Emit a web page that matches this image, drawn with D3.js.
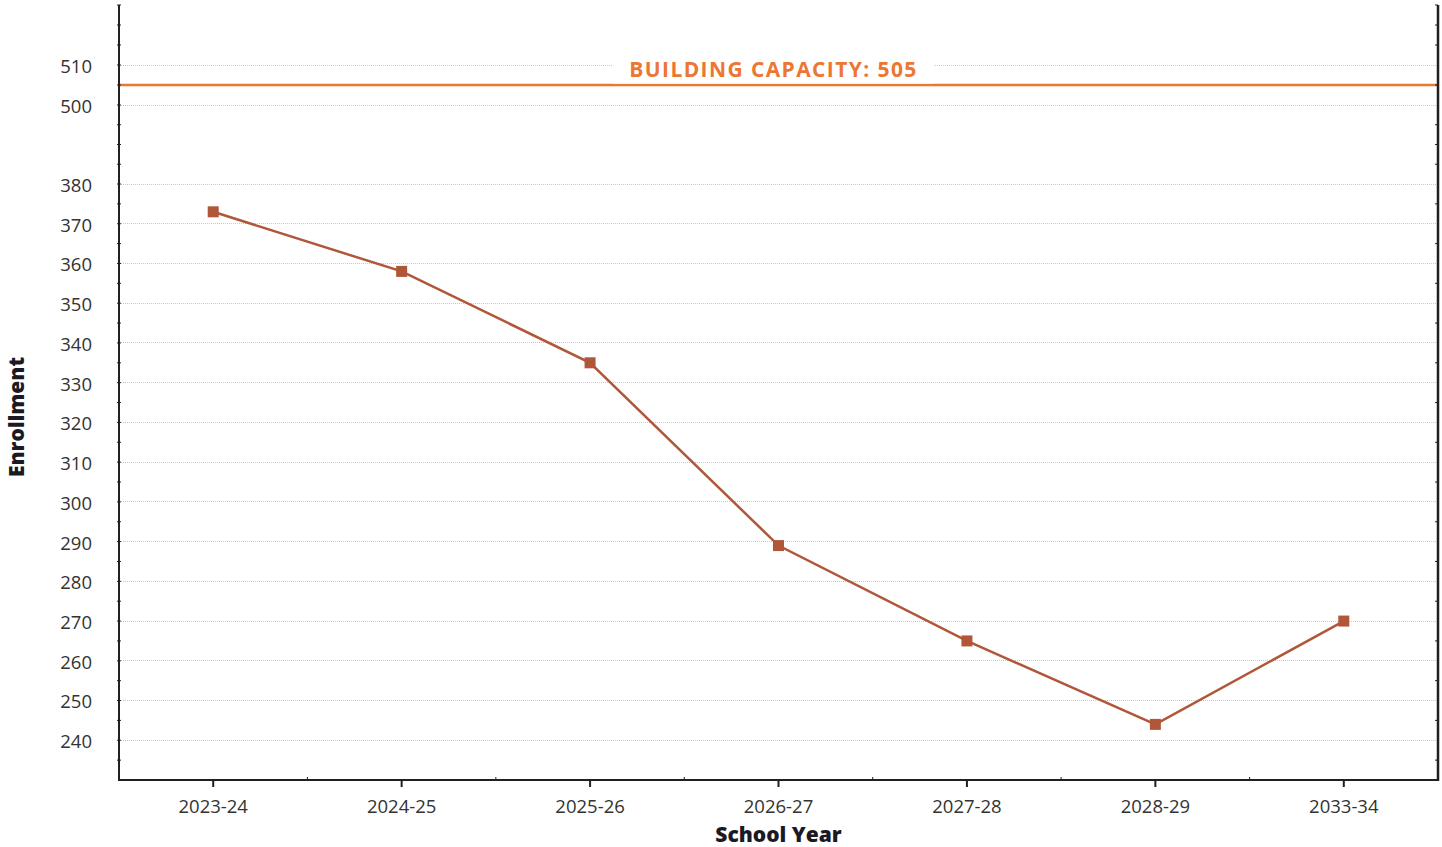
<!DOCTYPE html>
<html>
<head>
<meta charset="utf-8">
<script src="https://cdn.jsdelivr.net/npm/d3@7"></script>
<style>
  html, body { margin: 0; padding: 0; background: #fff; }
  svg { display: block; }
  text { font-family: "Open Sans", "Noto Sans", sans-serif; }
</style>
</head>
<body>
<svg id="chart" width="1442" height="847"></svg>
<script>
// ---- data ----
const schoolYears = ["2023-24", "2024-25", "2025-26", "2026-27", "2027-28", "2028-29", "2033-34"];
const enrollment = [373, 358, 335, 289, 265, 244, 270];
const buildingCapacity = 505;
const capacityLabel = "BUILDING CAPACITY: 505";
const yGridValues = [240, 250, 260, 270, 280, 290, 300, 310, 320, 330, 340, 350, 360, 370, 380, 500, 510];
const yMinorTicks = [235, 245, 255, 265, 275, 285, 295, 305, 315, 325, 335, 345, 355, 365, 375, 410, 440, 470, 505, 515, 520, 525];
const xTitle = "School Year";
const yTitle = "Enrollment";

// ---- layout ----
const plotLeft = 119, plotRight = 1438, plotTop = 5, plotBottom = 780;
const svg = d3.select("#chart");
const axisColor = "#231f20";
const lineColor = "#B0573A";
const capColor = "#EC7632";

const x = d3.scaleBand().domain(schoolYears).range([plotLeft, plotRight]).padding(0);
const xc = d => x(d) + x.bandwidth() / 2;
// broken axis: 380 -> 500 compressed
const y = d3.scaleLinear().domain([230, 380, 500, 525]).range([plotBottom, 184, 105, plotTop]);

// gridlines
svg.append("g").selectAll("line").data(yGridValues).join("line")
  .attr("x1", plotLeft).attr("x2", plotRight)
  .attr("y1", d => y(d)).attr("y2", d => y(d))
  .attr("stroke", "#c8c8c8").attr("stroke-width", 1)
  .attr("stroke-dasharray", "1,1")
  .attr("shape-rendering", "crispEdges");

// capacity line
svg.append("line")
  .attr("x1", plotLeft).attr("x2", plotRight)
  .attr("y1", y(buildingCapacity)).attr("y2", y(buildingCapacity))
  .attr("stroke", capColor).attr("stroke-width", 2.5);

// capacity label with white box
const labelX = (plotLeft + plotRight) / 2 - 5;
const capG = svg.append("g");
const capText = capG.append("text")
  .attr("x", labelX).attr("y", y(buildingCapacity) - 8)
  .attr("text-anchor", "middle")
  .attr("fill", capColor)
  .attr("font-size", 21).attr("font-weight", 700)
  .attr("letter-spacing", 1.4)
  .text(capacityLabel);
const bb = capText.node().getBBox();
capG.insert("rect", "text")
  .attr("x", bb.x - 16).attr("width", bb.width + 32)
  .attr("y", y(buildingCapacity) - 30).attr("height", 28.5)
  .attr("fill", "#fff");

// y axis (left)
const yAxis = d3.axisLeft(y).tickValues(yGridValues).tickSize(0).tickPadding(27);
const gy = svg.append("g").attr("transform", `translate(${plotLeft},0)`).call(yAxis);
gy.select(".domain").remove();
gy.selectAll("text").attr("font-size", 18.5).attr("fill", "#333")
  .attr("dy", "0.4em")
  .style("font-family", "'Open Sans', sans-serif");

// minor ticks left and right
const allTicks = yGridValues.concat(yMinorTicks);
svg.append("g").selectAll("line").data(allTicks).join("line")
  .attr("x1", plotLeft - 2).attr("x2", plotLeft + 2)
  .attr("y1", d => y(d)).attr("y2", d => y(d))
  .attr("stroke", axisColor).attr("stroke-width", 1);
svg.append("g").selectAll("line").data(yMinorTicks).join("line")
  .attr("x1", plotRight - 3).attr("x2", plotRight)
  .attr("y1", d => y(d)).attr("y2", d => y(d))
  .attr("stroke", axisColor).attr("stroke-width", 1);

// axis lines
svg.append("line").attr("x1", plotLeft).attr("x2", plotLeft).attr("y1", plotTop).attr("y2", plotBottom + 1)
  .attr("stroke", axisColor).attr("stroke-width", 2);
svg.append("line").attr("x1", plotRight).attr("x2", plotRight).attr("y1", plotTop).attr("y2", plotBottom + 1)
  .attr("stroke", axisColor).attr("stroke-width", 2.5);

// x axis
const xAxis = d3.axisBottom(x).tickSize(7).tickPadding(13);
const gx = svg.append("g").attr("transform", `translate(0,${plotBottom})`).call(xAxis);
gx.select(".domain").attr("d", `M${plotLeft},0H${plotRight}`).attr("stroke", axisColor).attr("stroke-width", 2);
gx.selectAll(".tick line").attr("stroke", axisColor).attr("stroke-width", 2);
gx.selectAll("text").attr("font-size", 18.5).attr("fill", "#333")
  .style("font-family", "'Open Sans', sans-serif");
// band boundary marks
svg.append("g").selectAll("line").data(schoolYears.slice(1)).join("line")
  .attr("x1", d => x(d)).attr("x2", d => x(d))
  .attr("y1", plotBottom - 3).attr("y2", plotBottom)
  .attr("stroke", axisColor).attr("stroke-width", 1);

// series line
const pts = schoolYears.map((d, i) => ({ year: d, value: enrollment[i] }));
svg.append("path").datum(pts)
  .attr("fill", "none").attr("stroke", lineColor).attr("stroke-width", 2.5)
  .attr("d", d3.line().x(d => xc(d.year)).y(d => y(d.value)));
const ms = 11;
svg.append("g").selectAll("rect").data(pts).join("rect")
  .attr("x", d => xc(d.year) - ms / 2).attr("y", d => y(d.value) - ms / 2)
  .attr("width", ms).attr("height", ms).attr("fill", lineColor);

// axis titles
svg.append("text").attr("x", (plotLeft + plotRight) / 2).attr("y", 842)
  .attr("text-anchor", "middle").attr("font-size", 21).attr("font-weight", 800)
  .attr("fill", "#1a1a24").text(xTitle);
svg.append("text").attr("transform", `translate(24,${417}) rotate(-90)`)
  .attr("text-anchor", "middle").attr("font-size", 21).attr("font-weight", 800)
  .attr("fill", "#1a1a24").text(yTitle);
</script>
</body>
</html>
